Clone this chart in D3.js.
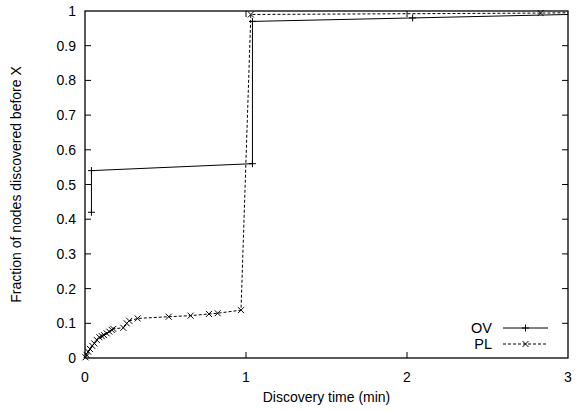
<!DOCTYPE html>
<html><head><meta charset="utf-8">
<script src="https://cdn.jsdelivr.net/npm/d3@7"></script>
<style>body{margin:0;background:#fff}svg{display:block}text{font-family:"Liberation Sans",Arial,sans-serif;fill:#000}</style>
</head><body><svg id="c" width="576" height="411"></svg>
<script>
const xTicks = [0, 1, 2, 3];
const yTicks = [0, 0.1, 0.2, 0.3, 0.4, 0.5, 0.6, 0.7, 0.8, 0.9, 1];
const ovX = [0.04, 0.04, 1.04, 1.04, 2.035, 3.0];
const ovY = [0.42, 0.54, 0.56, 0.97, 0.98, 0.99];
const plX = [0.003, 0.01, 0.02, 0.031, 0.045, 0.058, 0.073, 0.089, 0.104, 0.118, 0.135, 0.151, 0.166, 0.176, 0.238, 0.259, 0.275, 0.327, 0.52, 0.656, 0.77, 0.824, 0.969, 1.03, 2.83, 3.0];
const plY = [0.002, 0.009, 0.018, 0.026, 0.035, 0.042, 0.052, 0.06, 0.063, 0.066, 0.071, 0.076, 0.081, 0.084, 0.087, 0.1, 0.107, 0.114, 0.119, 0.122, 0.127, 0.129, 0.138, 0.99, 0.994, 0.995];
const series = ["OV", "PL"];

const L = 85, R = 568, T = 11, B = 358;
const x = d3.scaleLinear().domain([0, 3]).range([L, R]);
const y = d3.scaleLinear().domain([0, 1]).range([B, T]);
const svg = d3.select("#c");

// ticks (mirror, inward)
const g = svg.append("g").attr("stroke", "#000").attr("stroke-width", 1);
xTicks.forEach(t => {
  if (t > 0 && t < 3) {
    g.append("line").attr("x1", x(t)).attr("x2", x(t)).attr("y1", B).attr("y2", B - 6);
    g.append("line").attr("x1", x(t)).attr("x2", x(t)).attr("y1", T).attr("y2", T + 6);
  }
});
yTicks.forEach(t => {
  if (t > 0 && t < 1) {
    g.append("line").attr("x1", L).attr("x2", L + 6).attr("y1", y(t)).attr("y2", y(t));
    g.append("line").attr("x1", R).attr("x2", R - 6).attr("y1", y(t)).attr("y2", y(t));
  }
});
svg.append("rect").attr("x", L).attr("y", T).attr("width", R - L).attr("height", B - T)
  .attr("fill", "none").attr("stroke", "#000").attr("stroke-width", 1.3);

xTicks.forEach(t => svg.append("text").attr("x", x(t)).attr("y", B + 24)
  .attr("text-anchor", "middle").attr("font-size", 14).text(d3.format("d")(t)));
yTicks.forEach(t => svg.append("text").attr("x", L - 9).attr("y", y(t) + 5)
  .attr("text-anchor", "end").attr("font-size", 14).text(t === 0 || t === 1 ? d3.format("d")(t) : d3.format(".1f")(t)));

svg.append("text").attr("x", (L + R) / 2).attr("y", 402).attr("text-anchor", "middle")
  .attr("font-size", 14).text("Discovery time (min)");
svg.append("text").attr("transform", `translate(21,${(T + B) / 2}) rotate(-90)`)
  .attr("text-anchor", "middle").attr("font-size", 14).text("Fraction of nodes discovered before X");

const line = d3.line().x(d => x(d[0])).y(d => y(d[1]));
const ov = ovX.map((v, i) => [v, ovY[i]]);
const pl = plX.map((v, i) => [v, plY[i]]);

function plus(sel, cx, cy) {
  sel.append("path").attr("d", `M${cx - 3.5},${cy}H${cx + 3.5}M${cx},${cy - 3.5}V${cy + 3.5}`)
    .attr("stroke", "#000").attr("stroke-width", 1).attr("fill", "none");
}
function cross(sel, cx, cy) {
  sel.append("path").attr("d", `M${cx - 3},${cy - 3}L${cx + 3},${cy + 3}M${cx - 3},${cy + 3}L${cx + 3},${cy - 3}`)
    .attr("stroke", "#000").attr("stroke-width", 1).attr("fill", "none");
}

svg.append("path").attr("d", line(ov)).attr("fill", "none").attr("stroke", "#000").attr("stroke-width", 1);
const pm = svg.append("g");
ov.forEach(d => { if (d[0] < 3) plus(pm, x(d[0]), y(d[1])); });

svg.append("path").attr("d", line(pl)).attr("fill", "none").attr("stroke", "#000")
  .attr("stroke-width", 1).attr("stroke-dasharray", "3,2");
const cm = svg.append("g");
pl.forEach(d => { if (d[0] < 3) cross(cm, x(d[0]), y(d[1])); });

// legend
const lg = svg.append("g");
const ly = [328, 344];
series.forEach((s, i) => {
  lg.append("text").attr("x", 492).attr("y", ly[i] + 5).attr("text-anchor", "end").attr("font-size", 14.5).text(s);
  lg.append("line").attr("x1", 503).attr("x2", 548).attr("y1", ly[i]).attr("y2", ly[i])
    .attr("stroke", "#000").attr("stroke-width", 1).attr("stroke-dasharray", i ? "3,2" : null);
  if (i === 0) plus(lg, 525.5, ly[i]); else cross(lg, 525.5, ly[i]);
});
</script></body></html>
